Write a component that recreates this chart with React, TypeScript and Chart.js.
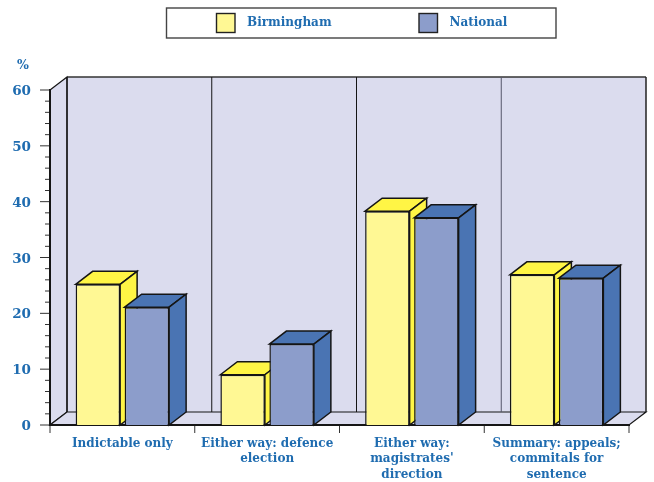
import React, { useEffect, useRef } from "react";
import { Chart, registerables } from "chart.js";

Chart.register(...registerables);

const categories = [
  ["Indictable only"],
  ["Either way: defence", "election"],
  ["Either way:", "magistrates'", "direction"],
  ["Summary: appeals;", "commitals for", "sentence"],
];
const birmingham = [25.2, 9, 38.3, 26.9];
const national = [21.1, 14.5, 37.1, 26.3];
const seriesNames = ["Birmingham", "National"];

const INK = "#151515";
const TEXT = "#1f6cb0";
const WALL = "#dbdcee";
const FONT = '"DejaVu Serif", serif';
const DEPTH_X = 17;
const DEPTH_Y = 13;

const palette = [
  { front: "#fff894", shade: "#fff545" },
  { front: "#8c9dcb", shade: "#4a74b3" },
];

function poly(ctx: CanvasRenderingContext2D, pts: number[][], fill: string | null, width = 1.5) {
  ctx.beginPath();
  pts.forEach(([x, y], i) => (i ? ctx.lineTo(x, y) : ctx.moveTo(x, y)));
  ctx.closePath();
  if (fill) {
    ctx.fillStyle = fill;
    ctx.fill();
  }
  ctx.strokeStyle = INK;
  ctx.lineWidth = width;
  ctx.lineJoin = "miter";
  ctx.stroke();
}

function line(ctx: CanvasRenderingContext2D, x1: number, y1: number, x2: number, y2: number, width: number, color = INK) {
  ctx.beginPath();
  ctx.moveTo(x1, y1);
  ctx.lineTo(x2, y2);
  ctx.lineWidth = width;
  ctx.strokeStyle = color;
  ctx.stroke();
}

const chamberPlugin = {
  id: "chamber",
  // Box walls, floor, category dividers, tick marks and the legend strip.
  beforeDraw(chart: any) {
    const { ctx, chartArea: a, scales } = chart;
    const { left, right, top, bottom } = a;
    const backTop = top - DEPTH_Y;
    const backBottom = bottom - DEPTH_Y;
    const backLeft = left + DEPTH_X;
    const backRight = right + DEPTH_X;
    ctx.save();
    ctx.fillStyle = WALL;
    ctx.fillRect(backLeft, backTop, backRight - backLeft, backBottom - backTop);
    poly(ctx, [[left, top], [backLeft, backTop], [backLeft, backBottom], [left, bottom]], WALL, 1.2);
    poly(ctx, [[left, bottom], [backLeft, backBottom], [backRight, backBottom], [right, bottom]], WALL, 1.2);
    line(ctx, backLeft, backTop, backRight, backTop, 1.3, "#333");
    line(ctx, backLeft, backTop, backLeft, backBottom, 1.3);
    line(ctx, backRight, backTop, backRight, backBottom, 1.5, "#222");

    const step = (right - left) / categories.length;
    for (let i = 1; i < categories.length; i++) {
      const x = left + step * i + DEPTH_X;
      line(ctx, x, backTop, x, backBottom, 1, i === 3 ? "#55556a" : INK);
    }
    for (let i = 0; i <= categories.length; i++) {
      const x = left + step * i;
      line(ctx, x, bottom, x, bottom + 8, 1, "#333");
    }
    scales.y.ticks.forEach((t: any) => {
      const y = scales.y.getPixelForValue(t.value);
      line(ctx, left - (t.value % 10 === 0 ? 10 : 5), y, left, y, 1, "#333");
    });

    ctx.fillStyle = "#fff";
    ctx.fillRect(166.5, 8, 389.5, 30);
    ctx.strokeStyle = "#444";
    ctx.lineWidth = 1.4;
    ctx.strokeRect(166.5, 8, 389.5, 30);
    const swatchX = [216.5, 419];
    const labelX = [247, 449.5];
    seriesNames.forEach((name, i) => {
      ctx.fillStyle = palette[i].front;
      ctx.fillRect(swatchX[i], 13.5, 18.5, 19);
      ctx.strokeStyle = "#222";
      ctx.lineWidth = 1.4;
      ctx.strokeRect(swatchX[i], 13.5, 18.5, 19);
      ctx.fillStyle = TEXT;
      ctx.font = `bold 12px ${FONT}`;
      ctx.textAlign = "left";
      ctx.textBaseline = "middle";
      ctx.fillText(name, labelX[i], 23);
    });

    ctx.fillStyle = TEXT;
    ctx.font = `bold 12.5px ${FONT}`;
    ctx.textAlign = "center";
    ctx.fillText("%", 23, 65.5);
    ctx.restore();
  },
  // Datasets paint left to right, each with its top and side faces, so the
  // right-hand bar of a pair overlaps the side of its neighbour.
  beforeDatasetsDraw(chart: any) {
    const { ctx } = chart;
    chart.data.datasets.forEach((_: any, index: number) => {
      const meta = chart.getDatasetMeta(index);
      const colors = palette[index];
      meta.controller.draw();
      ctx.save();
      meta.data.forEach((bar: any) => {
        const l = bar.x - bar.width / 2;
        const r = bar.x + bar.width / 2;
        const t = bar.y;
        const b = bar.base;
        poly(ctx, [[l, t], [l + DEPTH_X, t - DEPTH_Y], [r + DEPTH_X, t - DEPTH_Y], [r, t]], colors.shade);
        poly(ctx, [[r, t], [r + DEPTH_X, t - DEPTH_Y], [r + DEPTH_X, b - DEPTH_Y], [r, b]], colors.shade);
      });
      ctx.restore();
    });
    return false;
  },
};

export default function App() {
  const ref = useRef<HTMLCanvasElement>(null);

  useEffect(() => {
    const chart = new Chart(ref.current!, {
      type: "bar",
      data: {
        labels: categories as any,
        datasets: [
          {
            label: seriesNames[0],
            data: birmingham,
            backgroundColor: palette[0].front,
            borderColor: INK,
            borderWidth: 1.5,
          },
          {
            label: seriesNames[1],
            data: national,
            backgroundColor: palette[1].front,
            borderColor: INK,
            borderWidth: 1.5,
          },
        ],
      },
      options: {
        animation: false,
        responsive: false,
        layout: { padding: { top: 90, right: 25, left: 0, bottom: 0 } },
        plugins: { legend: { display: false }, tooltip: { enabled: false } },
        datasets: { bar: { categoryPercentage: 0.677, barPercentage: 0.908 } },
        scales: {
          x: {
            afterFit: (s: any) => {
              s.height = 57;
            },
            grid: { display: false, drawTicks: false },
            border: { color: INK, width: 2 },
            ticks: {
              color: TEXT,
              padding: 11,
              maxRotation: 0,
              autoSkip: false,
              font: { family: FONT, weight: "bold", size: 12, lineHeight: 1.28 },
            },
          },
          y: {
            min: 0,
            max: 60,
            afterFit: (s: any) => {
              s.width = 50;
            },
            grid: { display: false, drawTicks: false },
            border: { color: INK, width: 2 },
            ticks: {
              stepSize: 2,
              autoSkip: false,
              color: TEXT,
              padding: 19,
              labelOffset: 1.5,
              font: { family: FONT, weight: "bold", size: 13.5 },
              callback: (v: any) => (v % 10 === 0 ? String(v) : ""),
            },
          },
        },
      },
      plugins: [chamberPlugin],
    } as any);
    return () => chart.destroy();
  }, []);

  return (
    <div style={{ position: "fixed", left: 0, top: 0, width: 654, height: 482, background: "#fff" }}>
      <canvas ref={ref} width={654} height={482} style={{ display: "block" }} />
    </div>
  );
}
